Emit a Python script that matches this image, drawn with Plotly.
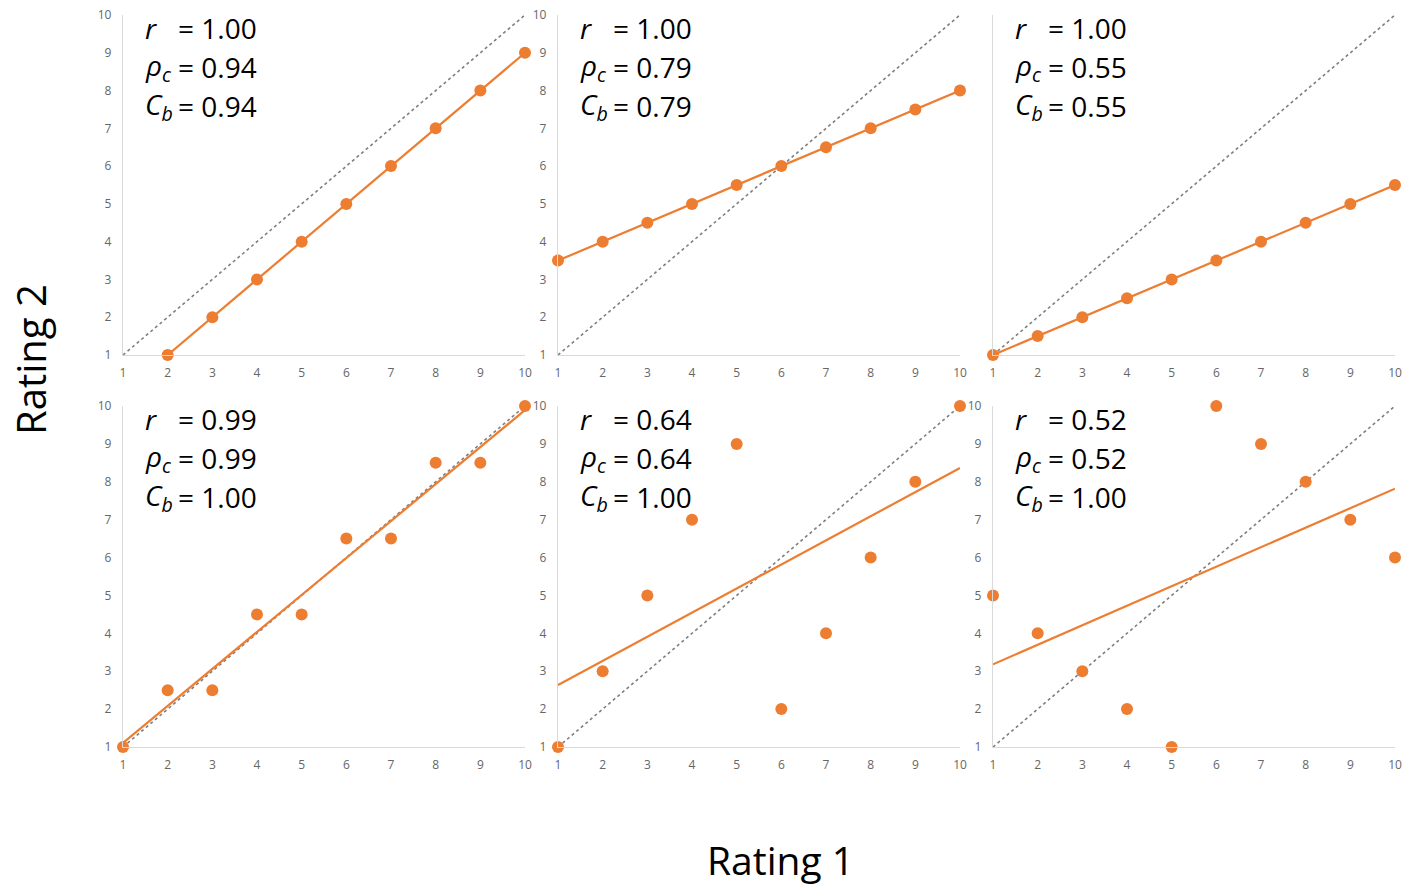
import numpy as np
import plotly.graph_objects as go

W, H = 1410, 888

# ---------------- data ----------------
x_p1 = [2, 3, 4, 5, 6, 7, 8, 9, 10]
y_p1 = [1, 2, 3, 4, 5, 6, 7, 8, 9]
x_p2 = [1, 2, 3, 4, 5, 6, 7, 8, 9, 10]
y_p2 = [3.5, 4, 4.5, 5, 5.5, 6, 6.5, 7, 7.5, 8]
x_p3 = [1, 2, 3, 4, 5, 6, 7, 8, 9, 10]
y_p3 = [1, 1.5, 2, 2.5, 3, 3.5, 4, 4.5, 5, 5.5]
x_p4 = [1, 2, 3, 4, 5, 6, 7, 8, 9, 10]
y_p4 = [1, 2.5, 2.5, 4.5, 4.5, 6.5, 6.5, 8.5, 8.5, 10]
x_p5 = [1, 2, 3, 4, 5, 6, 7, 8, 9, 10]
y_p5 = [1, 3, 5, 7, 9, 2, 4, 6, 8, 10]
x_p6 = [1, 2, 3, 4, 5, 6, 7, 8, 9, 10]
y_p6 = [5, 4, 3, 2, 1, 10, 9, 8, 7, 6]

r_vals = ["1.00", "1.00", "1.00", "0.99", "0.64", "0.52"]
rho_vals = ["0.94", "0.79", "0.55", "0.99", "0.64", "0.52"]
cb_vals = ["0.94", "0.79", "0.55", "1.00", "1.00", "1.00"]
fit_type = ["connect", "connect", "connect", "trend", "trend", "trend"]

tick_vals = [1, 2, 3, 4, 5, 6, 7, 8, 9, 10]
tick_text = ["1", "2", "3", "4", "5", "6", "7", "8", "9", "10"]
diag = [1, 10]

x_title = "Rating 1"
y_title = "Rating 2"

# ---------------- layout geometry (pixels) ----------------
ORANGE = "#ED7D31"
col_px = [(123, 525), (558, 960), (993, 1395)]
row_px = [(15, 355), (406, 747)]  # (top, bottom)

def px_x(p):
    return p / W

def px_y(p):
    return 1 - p / H

xs_all = [x_p1, x_p2, x_p3, x_p4, x_p5, x_p6]
ys_all = [y_p1, y_p2, y_p3, y_p4, y_p5, y_p6]

fig = go.Figure()
annotations = []
layout_axes = {}
TICKFONT = dict(size=12, color="#666666", family="Open Sans")
TXTFONT = dict(size=28, color="black", family="Open Sans")

for i in range(6):
    r, c = divmod(i, 3)
    ax_id = "" if i == 0 else str(i + 1)
    xa, ya = "x" + ax_id, "y" + ax_id
    xs, ys = xs_all[i], ys_all[i]

    # identity diagonal
    fig.add_trace(go.Scatter(x=diag, y=diag, mode="lines", xaxis=xa, yaxis=ya,
                             line=dict(color="#7f7f7f", width=1.6, dash="dot"),
                             showlegend=False, hoverinfo="skip"))
    # fit
    if fit_type[i] == "connect":
        fig.add_trace(go.Scatter(x=xs, y=ys, mode="lines", xaxis=xa, yaxis=ya,
                                 line=dict(color=ORANGE, width=2.2),
                                 showlegend=False, cliponaxis=False))
    else:
        slope, icpt = np.polyfit(xs, ys, 1)
        fx = [min(xs), max(xs)]
        fy = [slope * v + icpt for v in fx]
        fig.add_trace(go.Scatter(x=fx, y=fy, mode="lines", xaxis=xa, yaxis=ya,
                                 line=dict(color=ORANGE, width=2.2),
                                 showlegend=False))
    # points
    fig.add_trace(go.Scatter(x=xs, y=ys, mode="markers", xaxis=xa, yaxis=ya,
                             marker=dict(color=ORANGE, size=12),
                             showlegend=False, cliponaxis=False))

    x0, x1 = col_px[c]
    top, bot = row_px[r]
    show_y_labels = not (r == 0 and c == 2)
    layout_axes["xaxis" + ax_id] = dict(
        domain=[px_x(x0), px_x(x1)], range=[1, 10], anchor=ya, automargin=False,
        showgrid=False, zeroline=False, showline=True, linecolor="#d9d9d9", linewidth=1.3,
        tickvals=tick_vals, ticktext=tick_text, ticks="",
        tickfont=TICKFONT, ticklabelstandoff=6, fixedrange=True)
    layout_axes["yaxis" + ax_id] = dict(
        domain=[px_y(bot), px_y(top)], range=[1, 10], anchor=xa, automargin=False,
        showgrid=False, zeroline=False, showline=True, linecolor="#d9d9d9", linewidth=1.3,
        tickvals=tick_vals, ticktext=tick_text, ticks="",
        showticklabels=show_y_labels,
        tickfont=TICKFONT, ticklabelstandoff=8, fixedrange=True)

    # statistic annotations
    left = x0 + 20
    eq_left = x0 + 53
    line_centers = [top + 13, top + 52, top + 91]
    var_texts = ["<i>r</i>", "<i>ρ<sub>c</sub></i>", "<i>C<sub>b</sub></i>"]
    val_texts = ["= " + r_vals[i], "= " + rho_vals[i], "= " + cb_vals[i]]
    for k in range(3):
        annotations.append(dict(x=px_x(left), y=px_y(line_centers[k]), xref="paper", yref="paper",
                                text=var_texts[k], showarrow=False, xanchor="left", yanchor="middle",
                                font=TXTFONT))
        annotations.append(dict(x=px_x(eq_left), y=px_y(line_centers[k]), xref="paper", yref="paper",
                                text=val_texts[k], showarrow=False, xanchor="left", yanchor="middle",
                                font=TXTFONT))

annotations.append(dict(x=px_x(780), y=px_y(859), xref="paper", yref="paper", text=x_title,
                        showarrow=False, xanchor="center", yanchor="middle",
                        font=dict(size=39, color="black", family="Open Sans")))
annotations.append(dict(x=px_x(30), y=px_y(360), xref="paper", yref="paper", text=y_title,
                        showarrow=False, xanchor="center", yanchor="middle", textangle=-90,
                        font=dict(size=40, color="black", family="Open Sans")))

fig.update_layout(width=W, height=H, margin=dict(l=0, r=0, t=0, b=0, pad=0, autoexpand=False),
                  paper_bgcolor="white", plot_bgcolor="white",
                  annotations=annotations, showlegend=False, **layout_axes)

fig.write_html("out.html", config={"displayModeBar": False})
